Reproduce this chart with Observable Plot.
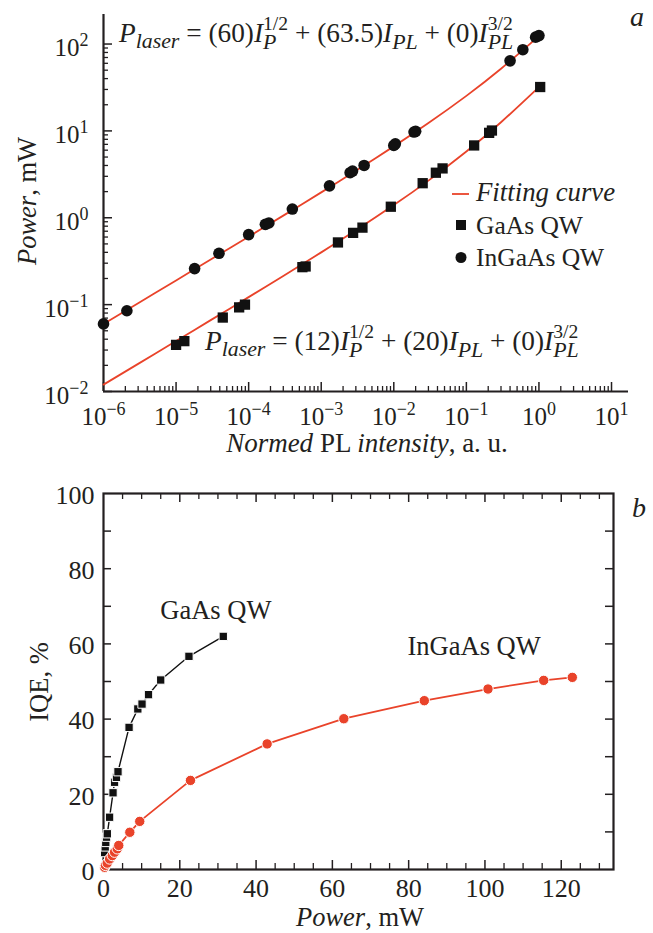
<!DOCTYPE html>
<html><head><meta charset="utf-8">
<script src="https://cdn.jsdelivr.net/npm/d3@7"></script>
<script src="https://cdn.jsdelivr.net/npm/@observablehq/plot@0.6"></script>
<style>
body{margin:0;background:#fff;}
#chart{width:653px;height:933px;}
#chart svg{display:block;overflow:visible;}
</style></head><body><div id="chart"></div><script>
// ---------- data: panel a ----------
const gaasI = [1.0e-5, 1.3e-5, 4.4e-5, 7.4e-5, 8.9e-5, 5.5e-4, 6.1e-4, 1.7e-3, 2.75e-3, 3.7e-3, 9.1e-3, 2.5e-2, 3.8e-2, 4.7e-2, 0.128, 0.206, 0.225, 1.04];
const gaasP = [0.0344, 0.038, 0.071, 0.093, 0.10, 0.27, 0.275, 0.52, 0.67, 0.77, 1.34, 2.5, 3.3, 3.7, 6.8, 9.5, 10.1, 32];
const ingaasI = [1.0e-6, 2.1e-6, 1.8e-5, 3.9e-5, 1.0e-4, 1.7e-4, 1.9e-4, 4.0e-4, 1.3e-3, 2.5e-3, 2.7e-3, 3.9e-3, 1.0e-2, 1.05e-2, 1.9e-2, 2.0e-2, 0.40, 0.60, 0.90, 1.0];
const ingaasP = [0.060, 0.085, 0.26, 0.39, 0.64, 0.84, 0.87, 1.26, 2.33, 3.3, 3.45, 4.0, 6.8, 7.1, 9.7, 9.9, 64, 86, 120, 125];
// fitting curves
const fitI = [1e-6, 3e-6, 1e-5, 3e-5, 1e-4, 3e-4, 1e-3, 3e-3, 1e-2, 3e-2, 1e-1, 3e-1, 1];
const fitInGaAsP = [0.060, 0.104, 0.190, 0.331, 0.606, 1.058, 1.961, 3.477, 6.635, 12.30, 25.32, 51.9, 123.5];
const fitGaAsP = [0.012, 0.0208, 0.0381, 0.0663, 0.122, 0.214, 0.3995, 0.717, 1.40, 2.678, 5.795, 12.57, 32.0];
const coefInGaAs = ["60", "63.5", "0"];
const coefGaAs = ["12", "20", "0"];
const xDecades = [-6, -5, -4, -3, -2, -1, 0, 1];
const yDecades = [-2, -1, 0, 1, 2];
const minorMult = [2, 3, 4, 5, 6, 7, 8, 9];
// ---------- data: panel b ----------
const iqeGaAsPower = [0.3, 0.45, 0.6, 0.8, 1.0, 1.6, 2.5, 2.9, 3.4, 3.8, 6.7, 9.0, 10.1, 11.8, 15.0, 22.4, 31.4];
const iqeGaAs = [4.5, 6.0, 7.2, 8.6, 9.5, 13.9, 20.4, 23.2, 24.5, 26.0, 37.8, 42.7, 44.0, 46.5, 50.4, 56.7, 62.0];
const iqeInGaAsPower = [0.3, 0.5, 0.97, 1.6, 2.3, 2.9, 3.6, 4.0, 6.9, 9.5, 22.8, 42.9, 63.0, 84.1, 100.8, 115.4, 122.9];
const iqeInGaAs = [0.6, 1.1, 1.7, 2.8, 3.7, 4.6, 5.5, 6.4, 9.9, 12.8, 23.7, 33.4, 40.1, 44.9, 48.0, 50.3, 51.1];
const bxLabels = [0, 20, 40, 60, 80, 100, 120];
const bxMinor = [5, 10, 15, 25, 30, 35, 45, 50, 55, 65, 70, 75, 85, 90, 95, 105, 110, 115, 125, 130];
const byLabels = [0, 20, 40, 60, 80, 100];
const byTicks = [10, 20, 30, 40, 50, 60, 70, 80, 90];

const FONT = "'Liberation Serif', 'Times New Roman', serif";
const INK = "#231f20";
const RED = "#e9432a";
const FS = 25;

const xMajor = xDecades.map(e => 10 ** e);
const yMajor = yDecades.map(e => 10 ** e);
const xMinor = xDecades.slice(0, -1).flatMap(e => minorMult.map(m => m * 10 ** e));
const yMinor = yDecades.slice(0, -1).flatMap(e => minorMult.map(m => m * 10 ** e));
const expFmt = d => "10^" + String(Math.round(Math.log10(d))).replace("-", "\u2212");

const gaas = gaasI.map((v, i) => ({I: v, P: gaasP[i]}));
const ingaas = ingaasI.map((v, i) => ({I: v, P: ingaasP[i]}));
const fitA = fitI.map((v, i) => ({I: v, P: fitInGaAsP[i]}));
const fitB = fitI.map((v, i) => ({I: v, P: fitGaAsP[i]}));
const qGaAs = iqeGaAsPower.map((v, i) => ({p: v, q: iqeGaAs[i]}));
const qInGaAs = iqeInGaAsPower.map((v, i) => ({p: v, q: iqeInGaAs[i]}));

// ---------- panel a ----------
const tW = 653, tH = 460, tML = 103, tMR = 25, tMT = 14, tMB = 69;
const tFW = tW - tML - tMR, tFH = tH - tMT - tMB;
const plotA = Plot.plot({
  width: tW, height: tH, marginLeft: tML, marginRight: tMR, marginTop: tMT, marginBottom: tMB,
  style: {fontFamily: FONT, fontSize: FS + "px", color: INK, background: "white", overflow: "visible"},
  x: {type: "log", domain: [1e-6, 10 ** 1.234]},
  y: {type: "log", domain: [0.01, 10 ** 2.34]},
  marks: [
    Plot.tickX(xMinor, {x: d => d, insetTop: tFH - 5, stroke: INK, strokeWidth: 1.3}),
    Plot.tickX(xMajor, {x: d => d, insetTop: tFH - 9, stroke: INK, strokeWidth: 1.5}),
    Plot.tickY(yMinor, {y: d => d, insetRight: tFW - 5, stroke: INK, strokeWidth: 1.3}),
    Plot.tickY(yMajor, {y: d => d, insetRight: tFW - 9, stroke: INK, strokeWidth: 1.5}),
    Plot.axisX({ticks: xMajor, tickSize: 0, tickPadding: 16, tickFormat: expFmt, label: null, fontSize: FS}),
    Plot.axisY({ticks: yMajor, tickSize: 0, tickPadding: 15, tickFormat: expFmt, label: null, fontSize: FS, dy: 4}),
    Plot.ruleY([0.01], {stroke: INK, strokeWidth: 2.2}),
    Plot.ruleX([1e-6], {stroke: INK, strokeWidth: 2.2}),
    Plot.line(fitA, {x: "I", y: "P", stroke: RED, strokeWidth: 1.8, curve: "natural"}),
    Plot.line(fitB, {x: "I", y: "P", stroke: RED, strokeWidth: 1.8, curve: "natural"}),
    Plot.dot(gaas, {x: "I", y: "P", symbol: "square", r: 5.8, fill: "#111", stroke: "none"}),
    Plot.dot(ingaas, {x: "I", y: "P", symbol: "circle", r: 5.8, fill: "#111", stroke: "none"})
  ]
});

// ---------- panel b ----------
const bW = 653, bH = 473, bML = 103, bMR = 40, bMT = 33, bMB = 64;
const bFW = bW - bML - bMR, bFH = bH - bMT - bMB;
const plotB = Plot.plot({
  width: bW, height: bH, marginLeft: bML, marginRight: bMR, marginTop: bMT, marginBottom: bMB,
  style: {fontFamily: FONT, fontSize: FS + "px", color: INK, background: "white", overflow: "visible"},
  x: {domain: [0, 133.7]},
  y: {domain: [0, 100]},
  marks: [
    Plot.tickX(bxMinor, {x: d => d, insetTop: bFH - 6, stroke: INK, strokeWidth: 1.3}),
    Plot.tickX(bxLabels.slice(1), {x: d => d, insetTop: bFH - 9, stroke: INK, strokeWidth: 1.5}),
    Plot.tickX(bxMinor, {x: d => d, insetBottom: bFH - 6, stroke: INK, strokeWidth: 1.3}),
    Plot.tickX(bxLabels.slice(1), {x: d => d, insetBottom: bFH - 9, stroke: INK, strokeWidth: 1.5}),
    Plot.tickY(byTicks, {y: d => d, insetRight: bFW - 8, stroke: INK, strokeWidth: 1.5}),
    Plot.tickY(byTicks, {y: d => d, insetLeft: bFW - 8, stroke: INK, strokeWidth: 1.5}),
    Plot.axisX({ticks: bxLabels, tickSize: 0, tickPadding: 9, label: null, fontSize: FS + 1}),
    Plot.axisY({ticks: byLabels, tickSize: 0, tickPadding: 9, label: null, fontSize: FS + 1, dy: 2}),
    Plot.frame({stroke: INK, strokeWidth: 2.2}),
    Plot.line(qGaAs, {x: "p", y: "q", stroke: "#111", strokeWidth: 1.4}),
    Plot.line(qInGaAs, {x: "p", y: "q", stroke: RED, strokeWidth: 1.8}),
    Plot.dot(qGaAs, {x: "p", y: "q", symbol: "square", r: 4.7, fill: "#111", stroke: "white", strokeWidth: 1}),
    Plot.dot(qInGaAs, {x: "p", y: "q", symbol: "circle", r: 5.2, fill: RED, stroke: "white", strokeWidth: 1}),
    Plot.text(["GaAs QW"], {x: 14.9, y: 68.9, textAnchor: "start", lineAnchor: "middle", fontSize: 26.5, fill: INK}),
    Plot.text(["InGaAs QW"], {x: 79.7, y: 59.3, textAnchor: "start", lineAnchor: "middle", fontSize: 26.5, fill: INK})
  ]
});

const root = document.getElementById("chart");
root.appendChild(plotA);
root.appendChild(plotB);

// superscript exponents in tick labels
function supTicks(svg) {
  svg.querySelectorAll('g[aria-label$="tick label"] text').forEach(el => {
    const m = el.textContent.match(/^10\^(.+)$/);
    if (!m) return;
    el.textContent = "10";
    const ts = document.createElementNS("http://www.w3.org/2000/svg", "tspan");
    ts.setAttribute("dy", "-10");
    ts.setAttribute("font-size", Math.round(FS * 0.72));
    ts.textContent = m[1];
    el.appendChild(ts);
  });
}
supTicks(plotA);

// rich text helper
function rich(svg, x, y, parts, size, opts = {}) {
  const t = d3.select(svg).append("text")
    .attr("font-family", FONT).attr("font-size", size).attr("fill", INK)
    .style("white-space", "pre")
    .attr("text-anchor", opts.anchor || "start");
  if (opts.rotate) t.attr("transform", `translate(${x},${y}) rotate(${opts.rotate})`);
  else t.attr("x", x).attr("y", y);
  let shift = 0, lastW = 0, pending = 0;
  for (const p of parts) {
    const s = p.shift || 0;
    const ts = t.append("tspan").text(p.t)
      .attr("dy", s - shift)
      .attr("font-size", (p.scale || 1) * size)
      .attr("font-style", p.it ? "italic" : "normal");
    const w = ts.node().getComputedTextLength();
    if (p.stack) { ts.attr("dx", -lastW); pending = Math.max(0, lastW - w); }
    else if (pending) { ts.attr("dx", pending); pending = 0; }
    shift = s; lastW = w;
  }
  return t;
}
function equation(c) {
  return [
    {t: "P", it: 1},
    {t: "laser", it: 1, scale: 0.8, shift: 6},
    {t: " = (" + c[0] + ")"},
    {t: "I", it: 1},
    {t: "P", it: 1, scale: 0.8, shift: 7},
    {t: "1/2", scale: 0.72, shift: -12, stack: 1},
    {t: " + (" + c[1] + ")"},
    {t: "I", it: 1},
    {t: "PL", it: 1, scale: 0.8, shift: 7},
    {t: " + (" + c[2] + ")"},
    {t: "I", it: 1},
    {t: "PL", it: 1, scale: 0.8, shift: 7},
    {t: "3/2", scale: 0.72, shift: -12, stack: 1}
  ];
}
rich(plotA, 119, 42, equation(coefInGaAs), 27.3);
rich(plotA, 205, 350, equation(coefGaAs), 27.3);
rich(plotA, 367, 452, [{t: "Normed", it: 1}, {t: " PL "}, {t: "intensity", it: 1}, {t: ", a. u."}], 27, {anchor: "middle"});
rich(plotA, 36, 201, [{t: "Power", it: 1}, {t: ", mW"}], 26.5, {anchor: "middle", rotate: -90});
rich(plotA, 630, 26, [{t: "a", it: 1}], 28);
// legend
const lg = d3.select(plotA);
lg.append("line").attr("x1", 452).attr("x2", 469).attr("y1", 194).attr("y2", 194).attr("stroke", RED).attr("stroke-width", 1.8);
lg.append("rect").attr("x", 456).attr("y", 220).attr("width", 10).attr("height", 10).attr("fill", "#111");
lg.append("circle").attr("cx", 461).attr("cy", 257.5).attr("r", 5.5).attr("fill", "#111");
rich(plotA, 476, 201, [{t: "Fitting curve", it: 1}], 26.8);
rich(plotA, 476, 234, [{t: "GaAs QW"}], 25.5);
rich(plotA, 476, 266, [{t: "InGaAs QW"}], 25.5);
// panel b labels
rich(plotB, 360, 466, [{t: "Power", it: 1}, {t: ", mW"}], 26.5, {anchor: "middle"});
rich(plotB, 48, 222, [{t: "IQE, %"}], 26.5, {anchor: "middle", rotate: -90});
rich(plotB, 632, 57, [{t: "b", it: 1}], 28);
</script></body></html>
